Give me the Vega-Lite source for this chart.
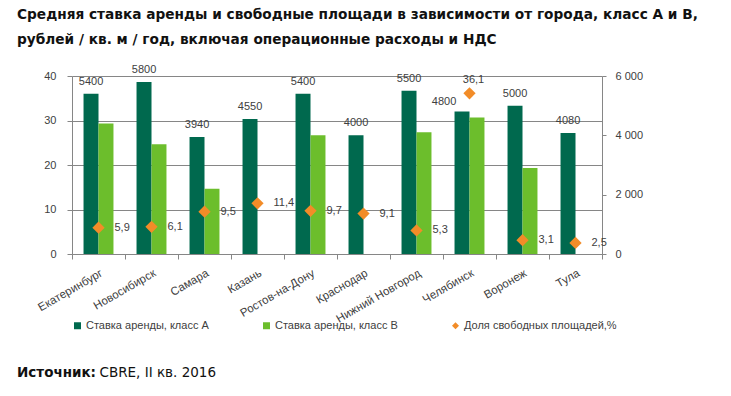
{
  "$schema": "https://vega.github.io/schema/vega-lite/v6.json",
  "width": 530,
  "height": 178,
  "padding": {"left": 17, "top": 8, "right": 10, "bottom": 5},
  "background": "white",
  "config": {
    "locale": {"number": {"decimal": ",", "thousands": " ", "grouping": [3], "currency": ["", ""]}},
    "font": "Liberation Sans",
    "view": {"stroke": null},
    "axis": {
      "labelFont": "Liberation Sans",
      "labelFontSize": 11,
      "labelColor": "#404040",
      "domainColor": "#868686",
      "tickColor": "#868686",
      "gridColor": "#868686",
      "title": null
    }
  },
  "title": {
    "text": ["Средняя ставка аренды и свободные площади в зависимости от города, класс А и В,", "рублей / кв. м / год, включая операционные расходы и НДС"],
    "anchor": "start",
    "frame": "group",
    "dx": -55,
    "font": "DejaVu Sans",
    "fontSize": 13.7,
    "fontWeight": "bold",
    "color": "#111111",
    "lineHeight": 25,
    "offset": 17
  },
  "data": {
    "values": [
      {"city": "Екатеринбург", "series": "Ставка аренды, класс А", "value": 5400},
      {"city": "Новосибирск", "series": "Ставка аренды, класс А", "value": 5800},
      {"city": "Самара", "series": "Ставка аренды, класс А", "value": 3940},
      {"city": "Казань", "series": "Ставка аренды, класс А", "value": 4550},
      {"city": "Ростов-на-Дону", "series": "Ставка аренды, класс А", "value": 5400},
      {"city": "Краснодар", "series": "Ставка аренды, класс А", "value": 4000},
      {"city": "Нижний Новгород", "series": "Ставка аренды, класс А", "value": 5500},
      {"city": "Челябинск", "series": "Ставка аренды, класс А", "value": 4800},
      {"city": "Воронеж", "series": "Ставка аренды, класс А", "value": 5000},
      {"city": "Тула", "series": "Ставка аренды, класс А", "value": 4080},
      {"city": "Екатеринбург", "series": "Ставка аренды, класс В", "value": 4400},
      {"city": "Новосибирск", "series": "Ставка аренды, класс В", "value": 3700},
      {"city": "Самара", "series": "Ставка аренды, класс В", "value": 2200},
      {"city": "Ростов-на-Дону", "series": "Ставка аренды, класс В", "value": 4000},
      {"city": "Нижний Новгород", "series": "Ставка аренды, класс В", "value": 4100},
      {"city": "Челябинск", "series": "Ставка аренды, класс В", "value": 4600},
      {"city": "Воронеж", "series": "Ставка аренды, класс В", "value": 2900},
      {"city": "Екатеринбург", "series": "Доля свободных площадей,%", "value": 5.9},
      {"city": "Новосибирск", "series": "Доля свободных площадей,%", "value": 6.1},
      {"city": "Самара", "series": "Доля свободных площадей,%", "value": 9.5},
      {"city": "Казань", "series": "Доля свободных площадей,%", "value": 11.4},
      {"city": "Ростов-на-Дону", "series": "Доля свободных площадей,%", "value": 9.7},
      {"city": "Краснодар", "series": "Доля свободных площадей,%", "value": 9.1},
      {"city": "Нижний Новгород", "series": "Доля свободных площадей,%", "value": 5.3},
      {"city": "Челябинск", "series": "Доля свободных площадей,%", "value": 36.1},
      {"city": "Воронеж", "series": "Доля свободных площадей,%", "value": 3.1},
      {"city": "Тула", "series": "Доля свободных площадей,%", "value": 2.5}
    ]
  },
  "layer": [
    {
      "transform": [{"filter": "datum.series !== 'Доля свободных площадей,%'"}],
      "encoding": {
        "x": {
          "field": "city",
          "type": "nominal",
          "sort": null,
          "scale": {"paddingInner": 0, "paddingOuter": 0},
          "axis": {
            "title": null,
            "labelAngle": -30,
            "tickBand": "extent",
            "tickSize": 5,
            "labelPadding": 8,
            "labelFontSize": 11.5,
            "grid": false
          }
        },
        "xOffset": {
          "field": "series",
          "type": "nominal",
          "scale": {"domain": ["Ставка аренды, класс А", "Ставка аренды, класс В"], "paddingInner": 0, "paddingOuter": 0.77}
        },
        "y": {
          "field": "value",
          "type": "quantitative",
          "scale": {"domain": [0, 6000], "nice": false},
          "axis": {
            "orient": "right",
            "values": [0, 2000, 4000, 6000],
            "labelExpr": "datum.value == 0 ? '0' : floor(datum.value / 1000) + ' 000'",
            "grid": false,
            "title": null,
            "tickSize": 4,
            "labelPadding": 9
          }
        }
      },
      "layer": [
        {
          "mark": {"type": "bar"},
          "encoding": {
            "color": {
              "field": "series",
              "type": "nominal",
              "scale": {
                "domain": ["Ставка аренды, класс А", "Ставка аренды, класс В", "Доля свободных площадей,%"],
                "range": ["#00694E", "#6CBE2C", "#F28C28"]
              },
              "legend": {
                "orient": "none",
                "legendX": 0,
                "legendY": 244,
                "direction": "horizontal",
                "columnPadding": 52,
                "labelFontSize": 11,
                "labelColor": "#404040",
                "labelFont": "Liberation Sans",
                "symbolSize": 49,
                "symbolStrokeWidth": 0,
                "title": null,
                "labelOffset": 3,
                "padding": 0
              }
            },
            "strokeDash": {
              "datum": "CBRE, II кв. 2016",
              "type": "nominal",
              "legend": {
                "orient": "none",
                "legendX": -55,
                "legendY": 290,
                "title": "Источник:",
                "titleOrient": "left",
                "titleFont": "DejaVu Sans",
                "titleFontSize": 13.5,
                "titleFontWeight": "bold",
                "titleColor": "#111111",
                "labelFont": "DejaVu Sans",
                "labelFontSize": 13.5,
                "labelColor": "#111111",
                "symbolOpacity": 0,
                "symbolSize": 0,
                "symbolStrokeWidth": 0,
                "labelOffset": -11,
                "titlePadding": 0,
                "padding": 0
              }
            }
          }
        },
        {
          "transform": [{"filter": "datum.series === 'Ставка аренды, класс А' && datum.city !== 'Челябинск'"}],
          "mark": {"type": "text", "dy": -9, "baseline": "alphabetic", "fontSize": 11, "color": "#404040"},
          "encoding": {"text": {"field": "value", "type": "quantitative"}}
        },
        {
          "transform": [{"filter": "datum.series === 'Ставка аренды, класс А' && datum.city === 'Челябинск'"}],
          "mark": {"type": "text", "dy": -7, "dx": -18, "baseline": "alphabetic", "fontSize": 11, "color": "#404040"},
          "encoding": {"text": {"field": "value", "type": "quantitative"}}
        }
      ]
    },
    {
      "transform": [{"filter": "datum.series === 'Доля свободных площадей,%'"}],
      "encoding": {
        "x": {"field": "city", "type": "nominal", "sort": null},
        "y": {
          "field": "value",
          "type": "quantitative",
          "scale": {"domain": [0, 40], "nice": false},
          "axis": {
            "orient": "left",
            "values": [0, 10, 20, 30, 40],
            "grid": true,
            "title": null,
            "tickSize": 5,
            "labelPadding": 11
          }
        }
      },
      "layer": [
        {
          "mark": {"type": "point", "filled": true, "opacity": 1, "size": 150},
          "encoding": {
            "color": {"field": "series", "type": "nominal"},
            "shape": {
              "field": "series",
              "type": "nominal",
              "scale": {
                "domain": ["Ставка аренды, класс А", "Ставка аренды, класс В", "Доля свободных площадей,%"],
                "range": ["square", "square", "diamond"]
              }
            }
          }
        },
        {
          "transform": [{"filter": "datum.city !== 'Челябинск'"}],
          "mark": {"type": "text", "dx": 16, "align": "left", "baseline": "middle", "fontSize": 11, "color": "#404040"},
          "encoding": {"text": {"field": "value", "type": "quantitative", "format": ".1f"}}
        },
        {
          "transform": [{"filter": "datum.city === 'Челябинск'"}],
          "mark": {"type": "text", "dy": -13, "dx": 4, "align": "center", "baseline": "middle", "fontSize": 11, "color": "#404040"},
          "encoding": {"text": {"field": "value", "type": "quantitative", "format": ".1f"}}
        }
      ]
    }
  ],
  "resolve": {"scale": {"y": "independent"}}
}
